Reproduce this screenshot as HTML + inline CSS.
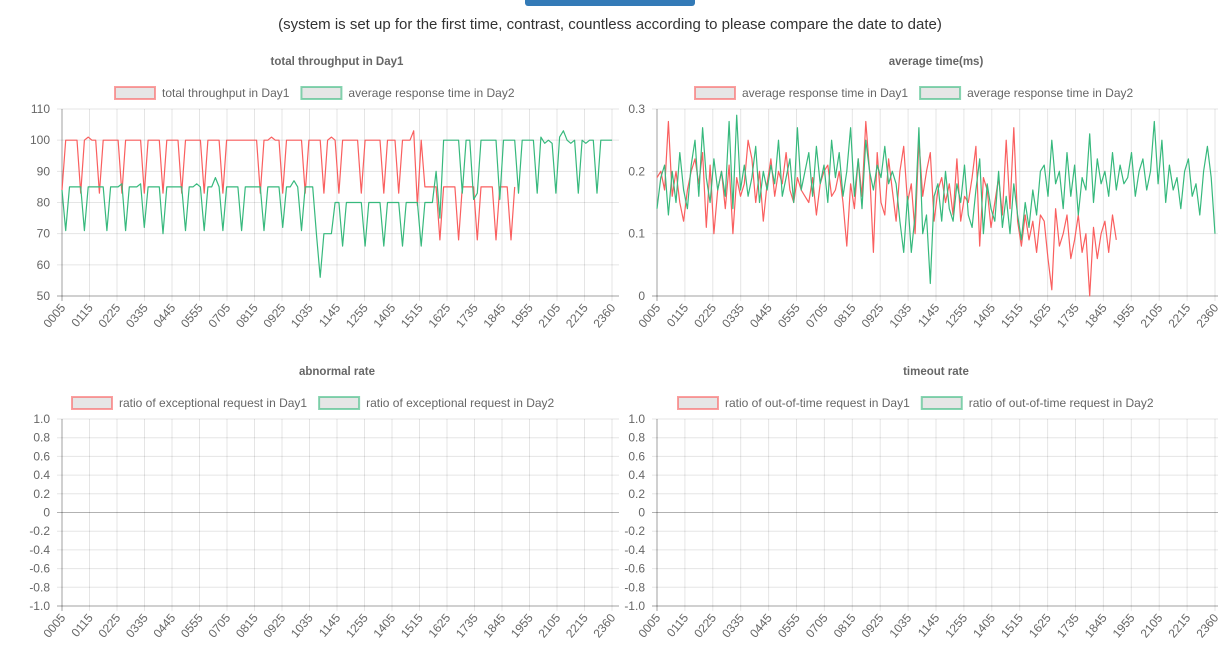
<!DOCTYPE html>
<html><head><meta charset="utf-8">
<style>
body{margin:0;background:#fff;width:1218px;height:658px;overflow:hidden;font-family:"Liberation Sans",Arial,sans-serif;}
svg text{font-family:"Liberation Sans",Arial,sans-serif;}
</style></head>
<body>
<svg id="root" width="1218" height="658" viewBox="0 0 1218 658">
<rect x="525" y="-6" width="170" height="12" rx="3" fill="#337ab7"/>
<text x="610" y="29" text-anchor="middle" font-size="15" fill="#333">(system is set up for the first time, contrast, countless according to please compare the date to date)</text>
</svg>
<script>
// 148 sample slots; 21 labelled ticks spread evenly over them
const sampleCount=148;
const tickLabels=['0005','0115','0225','0335','0445','0555','0705','0815','0925','1035','1145','1255','1405','1515','1625','1735','1845','1955','2105','2215','2360'];
const throughputDay1=[84,100,100,100,100,83,100,101,100,100,
83,100,100,100,100,100,83,100,100,100,
100,100,83,100,100,100,100,83,100,100,
100,100,83,100,100,100,100,100,83,100,
100,100,100,83,100,100,100,100,100,100,
100,100,100,83,100,100,101,100,100,83,
100,100,100,100,100,83,100,100,100,100,
83,100,101,100,83,100,100,100,100,100,
83,100,100,100,100,100,83,100,100,100,
83,100,100,100,103,79,100,85,85,85,
85,68,85,85,85,85,68,85,85,85,
85,68,85,85,85,85,68,85,85,85,
68,85];
const throughputDay2=[84,71,85,85,85,85,71,85,85,85,
85,85,71,85,85,85,86,71,85,85,
85,86,72,85,85,85,85,70,85,85,
85,85,85,71,85,85,86,85,71,85,
85,88,85,71,85,85,85,85,71,85,
85,85,85,85,71,85,85,85,85,72,
85,85,87,85,71,85,85,85,70,56,
70,70,70,80,80,66,80,80,80,80,
80,66,80,80,80,80,66,80,80,80,
80,66,80,80,80,80,66,80,80,80,
90,75,100,100,100,100,100,83,100,100,
81,83,100,100,100,100,100,81,100,100,
100,100,83,100,100,100,100,83,101,99,
100,99,83,101,103,100,99,100,83,100,
99,100,100,83,100,100,100,100];
const respDay1=[.19,.2,.17,.28,.16,.2,.15,.12,.17,.2,
.22,.18,.23,.11,.21,.1,.17,.2,.14,.21,
.1,.19,.16,.18,.25,.22,.15,.2,.12,.18,
.22,.16,.2,.18,.23,.17,.15,.19,.17,.16,
.15,.19,.13,.18,.2,.21,.16,.17,.2,.15,
.08,.18,.14,.22,.16,.28,.2,.07,.23,.15,
.13,.22,.17,.12,.2,.24,.15,.18,.1,.25,
.16,.2,.23,.12,.17,.19,.15,.18,.13,.22,
.12,.16,.15,.19,.24,.08,.19,.17,.11,.15,
.19,.13,.25,.14,.27,.12,.08,.13,.09,.12,
.07,.13,.12,.06,.01,.14,.08,.1,.13,.06,
.09,.13,.07,.1,0,.11,.06,.1,.12,.07,
.13,.09];
const respDay2=[.14,.19,.21,.13,.2,.15,.23,.17,.14,.21,
.25,.16,.27,.19,.15,.22,.17,.2,.16,.28,
.14,.29,.17,.21,.16,.19,.24,.15,.2,.17,
.21,.18,.25,.16,.19,.22,.15,.27,.17,.2,
.23,.16,.24,.18,.21,.15,.25,.19,.23,.16,
.2,.27,.16,.22,.14,.25,.2,.17,.21,.19,
.24,.18,.2,.18,.12,.07,.16,.07,.13,.27,
.1,.13,.02,.16,.18,.12,.2,.14,.12,.18,
.15,.21,.13,.11,.17,.22,.1,.18,.14,.12,
.2,.11,.16,.1,.18,.13,.09,.15,.11,.17,
.13,.2,.21,.16,.25,.18,.2,.14,.23,.16,
.21,.13,.19,.17,.26,.15,.22,.18,.2,.16,
.23,.17,.21,.18,.19,.23,.16,.2,.22,.17,
.2,.28,.18,.25,.15,.21,.17,.19,.14,.2,
.22,.16,.18,.13,.2,.24,.19,.1];
const errDay1=[],errDay2=[],toDay1=[],toDay2=[];
const ticksTop=[50,60,70,80,90,100,110];
const ticksResp=[0,0.1,0.2,0.3];
const ticksRate=[-1,-0.8,-0.6,-0.4,-0.2,0,0.2,0.4,0.6,0.8,1];

const NS='http://www.w3.org/2000/svg';
const root=document.getElementById('root');
const RED='rgb(250,95,95)',GREEN='rgb(55,185,125)';
function el(tag,attrs,parent){const e=document.createElementNS(NS,tag);for(const k in attrs)e.setAttribute(k,attrs[k]);(parent||root).appendChild(e);return e;}

function chart(o){
  const g=el('g',{});
  
  
  const ymin=o.ticks[0],ymax=o.ticks[o.ticks.length-1];
  const xs=i=>o.x0+(o.x1-o.x0)*i/(sampleCount-1);
  const ys=v=>o.yb+(o.yt-o.yb)*(v-ymin)/(ymax-ymin);
  const t=el('text',{x:(o.x0+o.x1)/2,y:o.titleY,'text-anchor':'middle','font-size':11.5,'font-weight':'bold',fill:'#666'},g);
  t.textContent=o.title;
  
  
  let lx=o.legendX;
  o.series.forEach(s=>{
    const b=el('rect',{x:lx,y:o.legendY-6,width:40,height:12,fill:'#e6e6e6',stroke:s.color,'stroke-opacity':0.6,'stroke-width':2},g);
    
    
    const tx=el('text',{x:lx+47,y:o.legendY+4,'font-size':12,fill:'#666'},g);
    tx.textContent=s.label;
    
    
    lx+=47+tx.getComputedTextLength()+12;
  });
  o.ticks.forEach(v=>{
    const y=ys(v);
    const ln=el('line',{x1:o.x0-5,x2:o.gridR,y1:y,y2:y,stroke:(v===0&&o.zero)?'rgba(0,0,0,0.3)':'rgba(0,0,0,0.1)','stroke-width':1},g);
    
    
    const tx=el('text',{x:o.x0-12,y:y+4,'text-anchor':'end','font-size':12,fill:'#666'},g);
    tx.textContent=o.fmt(v);
    
    
  });
  tickLabels.forEach((lab,k)=>{
    const x=xs(k*(sampleCount-1)/(tickLabels.length-1));
    const ln=el('line',{x1:x,x2:x,y1:o.yt,y2:o.yb+5,stroke:'rgba(0,0,0,0.1)','stroke-width':1},g);
    
    
    const tx=el('text',{x:x+4,y:o.yb+12,'text-anchor':'end','font-size':12,fill:'#666',transform:`rotate(-50 ${x+4} ${o.yb+12})`},g);
    tx.textContent=lab;
    
    
  });
  const ax=el('line',{x1:o.x0,x2:o.x0,y1:o.yt,y2:o.yb+5,stroke:'rgba(0,0,0,0.3)'},g);
  
  
  const bx=el('line',{x1:o.x0-5,x2:o.gridR,y1:o.yb,y2:o.yb,stroke:'rgba(0,0,0,0.3)'},g);
  
  
  o.series.forEach(s=>{
    if(!s.data.length)return;
    const pts=s.data.map((v,i)=>xs(i).toFixed(1)+','+ys(v).toFixed(1)).join(' ');
    const p=el('polyline',{points:pts,fill:'none',stroke:s.color,'stroke-width':1.2,'stroke-linejoin':'round'},g);
    
    
  });
}
chart({name:'throughput-chart',title:'total throughput in Day1',titleY:65,legendY:93,legendX:115,x0:62,x1:612,gridR:619,yt:109,yb:296,ticks:ticksTop,fmt:v=>String(v),
  series:[{id:'throughput-day1-line',label:'total throughput in Day1',color:RED,data:throughputDay1},{id:'throughput-day2-line',label:'average response time in Day2',color:GREEN,data:throughputDay2}]});
chart({name:'response-time-chart',title:'average time(ms)',titleY:65,legendY:93,legendX:695,x0:657,x1:1215,gridR:1218,yt:109,yb:296,ticks:ticksResp,fmt:v=>v===0?'0':v.toFixed(1),
  series:[{id:'response-day1-line',label:'average response time in Day1',color:RED,data:respDay1},{id:'response-day2-line',label:'average response time in Day2',color:GREEN,data:respDay2}]});
chart({name:'abnormal-rate-chart',title:'abnormal rate',titleY:375,legendY:403,legendX:72,x0:62,x1:612,gridR:619,yt:419,yb:606,ticks:ticksRate,zero:true,fmt:v=>Math.abs(v)<1e-9?'0':v.toFixed(1),
  series:[{id:'abnormal-day1-line',label:'ratio of exceptional request in Day1',color:RED,data:errDay1},{id:'abnormal-day2-line',label:'ratio of exceptional request in Day2',color:GREEN,data:errDay2}]});
chart({name:'timeout-rate-chart',title:'timeout rate',titleY:375,legendY:403,legendX:678,x0:657,x1:1215,gridR:1218,yt:419,yb:606,ticks:ticksRate,zero:true,fmt:v=>Math.abs(v)<1e-9?'0':v.toFixed(1),
  series:[{id:'timeout-day1-line',label:'ratio of out-of-time request in Day1',color:RED,data:toDay1},{id:'timeout-day2-line',label:'ratio of out-of-time request in Day2',color:GREEN,data:toDay2}]});
</script>
</body></html>
